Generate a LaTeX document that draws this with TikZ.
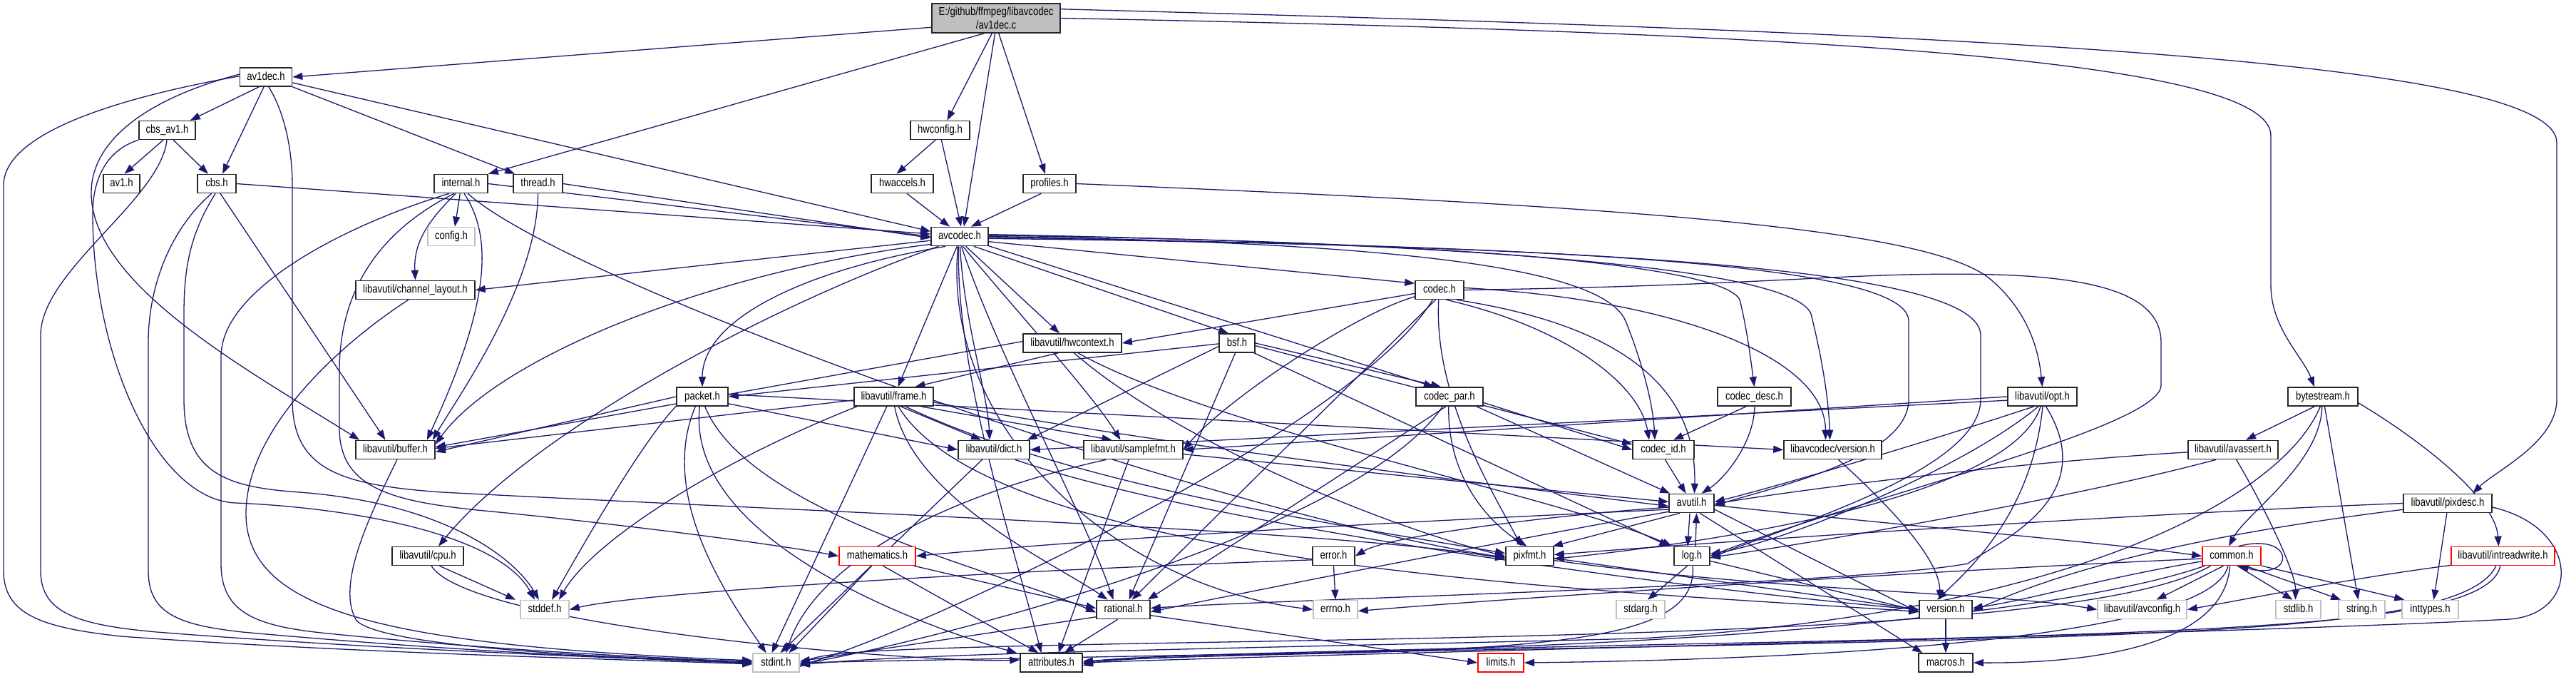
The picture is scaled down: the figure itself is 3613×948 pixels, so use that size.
\documentclass[tikz,border=0pt]{standalone}
\usepackage{fontspec}
\setmainfont[FakeStretch=0.82]{Liberation Sans}
\usetikzlibrary{arrows.meta}
\definecolor{edgec}{HTML}{191970}
\definecolor{grayb}{HTML}{BFBFBF}
\pgfdeclarelayer{bg}
\pgfsetlayers{bg,main}
\begin{document}
\begin{tikzpicture}[x=1pt,y=-1pt,
  nd/.style={font=\fontsize{16}{19}\selectfont, inner sep=0pt, minimum height=26pt, line width=1.6pt, draw=black!85, fill=white, text height=11.5pt, text depth=3.5pt},
  gb/.style={nd, draw=grayb},
  rb/.style={nd, draw=red},
  ed/.style={draw=edgec, line width=1.3pt, -{Triangle[length=14pt,width=10pt]}}]
\useasboundingbox (0,0) rectangle (3613,948);
% nodes
\node[nd, fill=grayb, minimum width=180pt, minimum height=41pt, align=center, text height=, text depth=] (top) at (1397,25.5) {E:/github/ffmpeg/libavcodec\\/av1dec.c};
\node[nd, minimum width=73pt] (av1dec) at (373,108) {av1dec.h};
\node[nd, minimum width=79pt] (cbsav1) at (234.5,182.5) {cbs\_av1.h};
\node[nd, minimum width=51pt] (av1) at (170.5,257.5) {av1.h};
\node[nd, minimum width=54pt] (cbs) at (304,257.5) {cbs.h};
\node[nd, minimum width=75pt] (internal) at (646.5,257.5) {internal.h};
\node[nd, minimum width=69pt] (thread) at (754.5,257.5) {thread.h};
\node[gb, minimum width=66pt] (config) at (633,331.5) {config.h};
\node[nd, minimum width=167pt] (chlayout) at (582.5,406.5) {libavutil/channel\_layout.h};
\node[nd, minimum width=83pt] (hwconfig) at (1318.5,182.5) {hwconfig.h};
\node[nd, minimum width=87pt] (hwaccels) at (1265.5,257.5) {hwaccels.h};
\node[nd, minimum width=74pt] (profiles) at (1472,257.5) {profiles.h};
\node[nd, minimum width=80pt] (avcodec) at (1346,331.5) {avcodec.h};
\node[nd, minimum width=68pt] (codec) at (2019,406.5) {codec.h};
\node[nd, minimum width=138pt] (hwcontext) at (1504,481) {libavutil/hwcontext.h};
\node[nd, minimum width=50pt] (bsf) at (1735,481) {bsf.h};
\node[nd, minimum width=72pt] (packet) at (985,556) {packet.h};
\node[nd, minimum width=111pt] (frame) at (1253.5,556) {libavutil/frame.h};
\node[nd, minimum width=100pt] (dict) at (1394,630.5) {libavutil/dict.h};
\node[nd, minimum width=139pt] (samplefmt) at (1589.5,630.5) {libavutil/samplefmt.h};
\node[rb, minimum width=107pt] (mathematics) at (1230.5,779.5) {mathematics.h};
\node[nd, minimum width=75pt] (rational) at (1575.5,854.5) {rational.h};
\node[gb, minimum width=65pt] (stdint) at (1088.5,929) {stdint.h};
\node[nd, minimum width=87pt] (attributes) at (1474.5,929) {attributes.h};
\node[nd, minimum width=111pt] (buffer) at (554.5,630.5) {libavutil/buffer.h};
\node[nd, minimum width=100pt] (cpu) at (600,779.5) {libavutil/cpu.h};
\node[gb, minimum width=68pt] (stddef) at (764,854.5) {stddef.h};
\node[nd, minimum width=94pt] (codecpar) at (2033,556) {codec\_par.h};
\node[nd, minimum width=103pt] (codecdesc) at (2460.5,556) {codec\_desc.h};
\node[nd, minimum width=86pt] (codecid) at (2333,630.5) {codec\_id.h};
\node[nd, minimum width=137pt] (lavcver) at (2570.5,630.5) {libavcodec/version.h};
\node[nd, minimum width=63pt] (avutil) at (2372.5,705.5) {avutil.h};
\node[nd, minimum width=59pt] (error) at (1870.5,779.5) {error.h};
\node[nd, minimum width=67pt] (pixfmt) at (2145.5,779.5) {pixfmt.h};
\node[nd, minimum width=50pt] (log) at (2373,779.5) {log.h};
\node[gb, minimum width=62pt] (errno) at (1873,854.5) {errno.h};
\node[gb, minimum width=68pt] (stdarg) at (2301,854.5) {stdarg.h};
\node[rb, minimum width=64pt] (limits) at (2105,929) {limits.h};
\node[nd, minimum width=97pt] (opt) at (2864.5,556) {libavutil/opt.h};
\node[nd, minimum width=98pt] (bytestream) at (3258,556) {bytestream.h};
\node[nd, minimum width=126pt] (avassert) at (3132,630.5) {libavutil/avassert.h};
\node[nd, minimum width=124pt] (pixdesc) at (3433,705.5) {libavutil/pixdesc.h};
\node[rb, minimum width=82pt] (common) at (3130,779.5) {common.h};
\node[rb, minimum width=145pt] (intreadwrite) at (3510.5,779.5) {libavutil/intreadwrite.h};
\node[nd, minimum width=74pt] (version) at (2729,854.5) {version.h};
\node[gb, minimum width=125pt] (avconfig) at (3004.5,854.5) {libavutil/avconfig.h};
\node[gb, minimum width=63pt] (stdlib) at (3223.5,854.5) {stdlib.h};
\node[gb, minimum width=65pt] (string) at (3312.5,854.5) {string.h};
\node[gb, minimum width=79pt] (inttypes) at (3408.5,854.5) {inttypes.h};
\node[nd, minimum width=76pt] (macros) at (2729,929) {macros.h};
% edges
\begin{pgfonlayer}{bg}
\fill[white] (0,0) rectangle (3613,948);
% top
\draw[ed] (top.188) -- (av1dec.east);
\draw[ed] (top.232) -- (internal.north east);
\draw[ed] (top.255) -- ([xshift=10pt]hwconfig.north);
\draw[ed] (top.266) -- ([xshift=6pt]avcodec.north);
\draw[ed] (top.280) -- ([xshift=-6pt]profiles.north);
\draw[ed] (top.east) .. controls (2500,45) and (3185,80) .. (3185,190) -- (3185,400) .. controls (3185,460) and (3230,500) .. ([xshift=-12pt]bytestream.north);
\draw[ed] (top.8) .. controls (2700,45) and (3586,80) .. (3586,200) -- (3586,560) .. controls (3586,620) and (3500,660) .. ([xshift=35pt]pixdesc.north);
% av1dec.h
\draw[ed] (av1dec.-125) -- ([xshift=-8pt]cbsav1.north east);
\draw[ed] (av1dec.-102) -- ([xshift=8pt]cbs.north);
\draw[ed] (av1dec.south east) -- ([xshift=3pt]thread.north west);
\draw[ed] (av1dec.-12) -- (avcodec.170);
\draw[ed] (av1dec.178) .. controls (150,140) and (5,190) .. (5,260) -- (5,800) .. controls (5,862) and (60,880) .. (170,892) .. controls (500,916) and (900,925) .. ([yshift=-2pt]stdint.west);
\draw[ed] (av1dec.174) .. controls (200,140) and (128,200) .. (128,270) .. controls (128,400) and (350,520) .. ([xshift=6pt]buffer.north west);
\draw[ed] (av1dec.-75) .. controls (395,150) and (410,200) .. (410,260) -- (410,560) .. controls (410,660) and (480,680) .. (620,690) .. controls (1200,720) and (1900,745) .. ([yshift=-4pt]pixfmt.west);
% cbs_av1.h
\draw[ed] (cbsav1.-112) -- ([xshift=4pt]av1.north);
\draw[ed] (cbsav1.-58) -- ([xshift=-12pt]cbs.north);
\draw[ed] (cbsav1.-92) .. controls (225,280) and (57,380) .. (57,470) -- (57,800) .. controls (57,860) and (110,876) .. (220,886) .. controls (550,912) and (900,923) .. ([yshift=-1pt]stdint.west);
\draw[ed] (cbsav1.south west) .. controls (150,210) and (130,250) .. (130,300) .. controls (130,500) and (220,700) .. (330,705) .. controls (500,712) and (700,750) .. ([xshift=-14pt]stddef.north);
% cbs.h
\draw[ed] (cbs.east) -- (avcodec.175);
\draw[ed] (cbs.-70) -- ([xshift=-14pt]buffer.north);
\draw[ed] (cbs.-118) .. controls (240,320) and (208,400) .. (208,480) -- (208,800) .. controls (208,860) and (250,876) .. (340,886) .. controls (650,914) and (900,924) .. (stdint.west);
\draw[ed] (cbs.-98) .. controls (265,330) and (258,380) .. (258,440) -- (258,560) .. controls (258,665) and (320,683) .. (420,690) .. controls (620,705) and (720,780) .. ([xshift=-8pt]stddef.north);
% internal.h
\draw[ed] (internal.east) -- (avcodec.180);
\draw[ed] (internal.-95) -- ([xshift=5pt]config.north);
\draw[ed] (internal.-118) .. controls (600,310) and (580,340) .. (chlayout.north);
\draw[ed] (internal.-140) .. controls (500,310) and (310,400) .. (310,500) -- (310,790) .. controls (310,860) and (360,878) .. (460,888) .. controls (700,912) and (920,922) .. ([yshift=1pt]stdint.west);
\draw[ed] (internal.-72) .. controls (690,330) and (690,420) .. ([xshift=-12pt]buffer.north east);
\draw[ed] (internal.-125) .. controls (520,330) and (476,420) .. (476,520) -- (476,600) .. controls (476,690) and (560,705) .. (700,718) .. controls (900,738) and (1100,765) .. (mathematics.west);
\draw[ed] (internal.-55) .. controls (800,400) and (1700,720) .. ([yshift=-2pt]pixfmt.west);
% thread.h
\draw[ed] (thread.east) -- (avcodec.183);
\draw[ed] (thread.south) .. controls (754,400) and (640,560) .. ([xshift=-4pt]buffer.north east);
% hwconfig / hwaccels / profiles
\draw[ed] (hwconfig.-115) -- ([xshift=-8pt]hwaccels.north);
\draw[ed] (hwconfig.-82) -- ([xshift=2pt]avcodec.north);
\draw[ed] (hwaccels.-65) -- ([xshift=-14pt]avcodec.north);
\draw[ed] (profiles.-130) -- ([xshift=16pt]avcodec.north);
\draw[ed] (profiles.east) .. controls (2300,290) and (2700,320) .. (2790,390) .. controls (2850,440) and (2860,500) .. (opt.north);
% avcodec.h
\draw[ed] (avcodec.188) -- (chlayout.east);
\draw[ed] (avcodec.195) .. controls (1000,380) and (700,500) .. ([yshift=-6pt]buffer.north east);
\draw[ed] (avcodec.205) .. controls (1100,420) and (750,600) .. ([xshift=15pt]cpu.north);
\draw[ed] (avcodec.215) .. controls (1120,380) and (985,450) .. (packet.north);
\draw[ed] (avcodec.-105) -- ([xshift=6pt]frame.north);
\draw[ed] (avcodec.-88) .. controls (1352,450) and (1385,550) .. ([xshift=-6pt]dict.north);
\draw[ed] (avcodec.-72) .. controls (1420,430) and (1530,550) .. ([xshift=-18pt]samplefmt.north);
\draw[ed] (avcodec.-58) -- ([xshift=-18pt]hwcontext.north);
\draw[ed] (avcodec.-35) -- ([xshift=-12pt]bsf.north);
\draw[ed] (avcodec.-10) -- (codec.165);
\draw[ed] (avcodec.-80) .. controls (1400,500) and (1520,720) .. ([xshift=-14pt]rational.north);
\draw[ed] (avcodec.-96) .. controls (1340,520) and (1420,760) .. ([xshift=-14pt]attributes.north);
\draw[ed] (avcodec.-100) .. controls (1320,600) and (1560,820) .. (errno.west);
\draw[ed] (avcodec.-18) -- ([xshift=-22pt]codecpar.north);
\draw[ed] (avcodec.east) .. controls (2000,340) and (2250,380) .. (2280,450) .. controls (2300,500) and (2318,560) .. ([xshift=-12pt]codecid.north);
\draw[ed] (avcodec.2) .. controls (2150,340) and (2420,380) .. (2440,420) .. controls (2450,460) and (2455,500) .. (codecdesc.north);
\draw[ed] (avcodec.4) .. controls (2250,345) and (2520,390) .. (2540,440) .. controls (2555,500) and (2565,560) .. ([xshift=-4pt]lavcver.north);
\draw[ed] (avcodec.-2) .. controls (2200,345) and (2677,370) .. (2677,450) -- (2677,560) .. controls (2677,640) and (2500,680) .. ([yshift=-3pt]avutil.east);
\draw[ed] (avcodec.-4) .. controls (2300,345) and (2778,380) .. (2778,470) -- (2778,560) .. controls (2778,660) and (2500,740) .. ([yshift=-3pt]log.east);
% codec.h
\draw[ed] (codec.188) -- (hwcontext.east);
\draw[ed] (codec.195) .. controls (1900,440) and (1720,560) .. (samplefmt.east);
\draw[ed] (codec.-125) .. controls (1900,600) and (1300,880) .. ([yshift=-4pt]stdint.east);
\draw[ed] (codec.-112) -- ([xshift=12pt]rational.north);
\draw[ed] (codec.-95) .. controls (2010,560) and (2100,700) .. ([xshift=-12pt]pixfmt.north);
\draw[ed] (codec.-55) .. controls (2200,460) and (2300,540) .. ([xshift=-20pt]codecid.north);
\draw[ed] (codec.5) .. controls (2350,420) and (2560,500) .. ([xshift=-10pt]lavcver.north);
\draw[ed] (codec.-30) .. controls (2300,460) and (2380,560) .. ([xshift=4pt]avutil.north);
\draw[ed] (codec.0) .. controls (2500,400) and (2600,380) .. (2800,385) .. controls (2960,390) and (3031,420) .. (3031,480) -- (3031,540) .. controls (3031,600) and (2600,700) .. ([yshift=0pt]log.east);
% bsf.h
\draw[ed] (bsf.182) -- (packet.east);
\draw[ed] (bsf.190) -- ([xshift=-4pt]dict.north east);
\draw[ed] (bsf.-100) -- ([xshift=8pt]rational.north);
\draw[ed] (bsf.-8) -- (codecid.170);
\draw[ed] (bsf.east) -- ([xshift=-12pt]codecpar.north);
\draw[ed] (bsf.-30) -- ([xshift=-6pt]log.north west);
% hwcontext.h
\draw[ed] (hwcontext.178) -- ([yshift=-10pt]buffer.north east);
\draw[ed] (hwcontext.-145) -- ([xshift=30pt]frame.north);
\draw[ed] (hwcontext.-60) .. controls (1700,600) and (2200,700) .. ([xshift=-2pt]log.north west);
\draw[ed] (hwcontext.-80) .. controls (1650,620) and (1950,740) .. ([yshift=0pt]pixfmt.west);
% packet.h
\draw[ed] (packet.180) -- ([yshift=-3pt]buffer.east);
\draw[ed] (packet.-160) .. controls (900,620) and (820,760) .. ([xshift=10pt]stddef.north);
\draw[ed] (packet.-125) .. controls (920,700) and (1030,850) .. ([xshift=-14pt]stdint.north);
\draw[ed] (packet.-105) .. controls (960,760) and (1300,880) .. ([xshift=-4pt]attributes.north west);
\draw[ed] (packet.-15) -- (dict.west);
\draw[ed] (packet.-75) .. controls (1050,720) and (1400,800) .. ([yshift=-4pt]rational.west);
\draw[ed] (packet.5) -- (lavcver.west);
% frame.h
\draw[ed] (frame.185) -- ([yshift=2pt]buffer.east);
\draw[ed] (frame.-165) .. controls (1000,650) and (830,760) .. ([xshift=20pt]stddef.north);
\draw[ed] (frame.-125) -- ([xshift=-6pt]stdint.north);
\draw[ed] (frame.-8) .. controls (1600,620) and (2100,680) .. ([yshift=-4pt]avutil.west);
\draw[ed] (frame.-55) -- ([xshift=-18pt]dict.north);
\draw[ed] (frame.-85) .. controls (1280,700) and (1480,790) .. ([xshift=-22pt]rational.north);
\draw[ed] (frame.-20) -- ([xshift=-30pt]samplefmt.north);
\draw[ed] (frame.-40) .. controls (1500,680) and (1900,740) .. ([yshift=4pt]pixfmt.west);
\draw[ed] (frame.-65) .. controls (1400,800) and (2300,830) .. ([yshift=-3pt]version.west);
% dict.h / samplefmt.h
\draw[ed] (dict.-140) -- ([xshift=6pt]stdint.north);
\draw[ed] (dict.-25) .. controls (1700,740) and (2400,830) .. (version.west);
\draw[ed] (samplefmt.-160) .. controls (1300,700) and (1140,800) .. ([xshift=14pt]stdint.north);
\draw[ed] (samplefmt.-5) -- ([yshift=2pt]avutil.west);
\draw[ed] (samplefmt.-115) -- ([xshift=10pt]attributes.north);
% buffer, chlayout, cpu
\draw[ed] (buffer.-80) .. controls (520,720) and (470,820) .. (500,870) .. controls (540,910) and (900,924) .. ([yshift=2pt]stdint.west);
\draw[ed] (chlayout.-125) .. controls (480,480) and (345,600) .. (345,720) .. controls (345,860) and (550,905) .. ([yshift=3pt]stdint.west);
\draw[ed] (cpu.-40) -- ([xshift=-6pt]stddef.north west);
\draw[ed] (cpu.-70) .. controls (660,880) and (1300,930) .. ([yshift=4pt]attributes.west);
% mathematics, rational
\draw[ed] (mathematics.-120) -- ([xshift=18pt]stdint.north);
\draw[ed] (mathematics.-15) -- ([yshift=2pt]rational.west);
\draw[ed] (mathematics.-60) -- ([xshift=-18pt]attributes.north);
\draw[ed] (rational.195) -- ([yshift=2pt]stdint.east);
\draw[ed] (rational.-120) -- ([xshift=18pt]attributes.north);
\draw[ed] (rational.-12) -- (limits.west);
% codec_par, codec_desc, codec_id, lavc version
\draw[ed] (codecpar.-125) .. controls (1900,750) and (1300,900) .. ([yshift=-2pt]stdint.east);
\draw[ed] (codecpar.-20) -- ([xshift=2pt]avutil.north west);
\draw[ed] (codecpar.-110) -- ([xshift=-4pt]rational.north east);
\draw[ed] (codecpar.-95) .. controls (2030,680) and (2100,740) .. ([xshift=-4pt]pixfmt.north);
\draw[ed] (codecpar.-10) -- (codecid.180);
\draw[ed] (codecdesc.-130) -- ([xshift=14pt]codecid.north);
\draw[ed] (codecdesc.-88) .. controls (2460,620) and (2420,670) .. ([xshift=14pt]avutil.north);
\draw[ed] (codecid.-80) -- ([xshift=-8pt]avutil.north);
\draw[ed] (lavcver.-60) .. controls (2640,700) and (2720,780) .. ([xshift=-8pt]version.north);
% avutil.h
\draw[ed] (avutil.-5) .. controls (2700,740) and (2950,760) .. (common.west);
\draw[ed] (avutil.190) .. controls (2200,720) and (1950,750) .. (error.east);
\draw[ed] (avutil.200) .. controls (2100,760) and (1750,830) .. ([yshift=-3pt]rational.east);
\draw[ed] (avutil.-15) -- ([yshift=-4pt]version.west);
\draw[ed] (avutil.-50) -- ([xshift=6pt]macros.north west);
\draw[ed] (avutil.195) .. controls (2000,730) and (1600,750) .. (mathematics.east);
\draw[ed] (avutil.-100) -- ([xshift=-6pt]log.north);
\draw[ed] (avutil.-140) -- ([xshift=-2pt]pixfmt.north east);
% log.h
\draw[ed] (log.70) -- ([xshift=7pt]avutil.south);
\draw[ed] (log.-115) -- ([xshift=10pt]stdarg.north);
\draw[ed] (log.-85) .. controls (2380,880) and (2250,905) .. (1900,915) .. controls (1700,920) and (1560,922) .. ([yshift=-4pt]attributes.east);
\draw[ed] (log.-15) -- ([yshift=-2pt]version.west);
% error.h
\draw[ed] (error.south) -- (errno.north);
\draw[ed] (error.190) .. controls (1400,800) and (900,830) .. (stddef.east);
% pixfmt.h
\draw[ed] (pixfmt.-10) .. controls (2500,830) and (2800,830) .. (avconfig.west);
\draw[ed] (pixfmt.-5) -- (version.west);
% version.h
\draw[ed] (version.south) -- (macros.north);
% common.h
\draw[ed] (common.-130) -- ([xshift=20pt]avconfig.north);
\draw[ed] (common.-60) -- ([xshift=-8pt]stdlib.north);
\draw[ed] (common.-35) -- ([xshift=4pt]string.north west);
\draw[ed] (common.-18) -- ([xshift=4pt]inttypes.north west);
\draw[ed] (common.190) .. controls (2950,810) and (2850,840) .. ([yshift=2pt]version.east);
\draw[ed] (common.-100) .. controls (3120,900) and (2950,930) .. (macros.east);
\draw[ed] (common.200) .. controls (2900,860) and (2400,900) .. (2000,910) .. controls (1800,915) and (1560,920) .. ([yshift=-2pt]attributes.east);
\draw[ed] (common.205) .. controls (2950,880) and (2300,890) .. (1600,902) .. controls (1300,908) and (1150,912) .. ([yshift=-6pt]stdint.east);
\draw[ed] (common.185) .. controls (2700,800) and (2100,840) .. ([yshift=-2pt]errno.east);
\draw[ed] (common.-110) .. controls (3100,900) and (2500,925) .. (limits.east);
\draw[ed] (common.55) .. controls (3220,745) and (3220,815) .. (common.-55);
% opt.h
\draw[ed] (opt.180) -- (samplefmt.east);
\draw[ed] (opt.186) -- (dict.east);
\draw[ed] (opt.-130) .. controls (2700,620) and (2500,680) .. ([yshift=2pt]avutil.east);
\draw[ed] (opt.-112) .. controls (2750,660) and (2500,760) .. ([yshift=3pt]log.east);
\draw[ed] (opt.-100) .. controls (2820,700) and (2400,760) .. ([yshift=-4pt]pixfmt.east);
\draw[ed] (opt.-88) .. controls (2850,720) and (2760,800) .. ([xshift=-12pt]version.north);
\draw[ed] (opt.-70) .. controls (2950,700) and (2800,760) .. (2760,790) .. controls (2600,820) and (1800,840) .. ([yshift=2pt]rational.east);
% bytestream.h
\draw[ed] (bytestream.-130) -- ([xshift=18pt]avassert.north);
\draw[ed] (bytestream.-95) .. controls (3255,650) and (3150,720) .. ([xshift=-4pt]common.north);
\draw[ed] (bytestream.-80) -- ([xshift=-5pt]string.north);
\draw[ed] (bytestream.-10) .. controls (3400,620) and (3500,700) .. ([xshift=-6pt]intreadwrite.north);
\draw[ed] (bytestream.-105) .. controls (3200,700) and (2900,860) .. (2300,895) .. controls (1700,910) and (1300,915) .. ([yshift=-3pt]stdint.east);
% avassert.h
\draw[ed] (avassert.-72) .. controls (3170,700) and (3220,800) .. ([xshift=-4pt]stdlib.north);
\draw[ed] (avassert.183) .. controls (2800,650) and (2500,690) .. ([yshift=-1pt]avutil.east);
\draw[ed] (avassert.-150) .. controls (2900,700) and (2550,760) .. ([yshift=-2pt]log.east);
% pixdesc.h
\draw[ed] (pixdesc.-95) -- ([xshift=5pt]inttypes.north);
\draw[ed] (pixdesc.180) .. controls (3000,720) and (2400,760) .. ([yshift=2pt]pixfmt.east);
\draw[ed] (pixdesc.188) .. controls (3000,760) and (2850,820) .. ([yshift=-2pt]version.east);
\draw[ed] (pixdesc.-5) .. controls (3620,740) and (3620,860) .. (3520,868) .. controls (3100,890) and (1900,915) .. ([yshift=0pt]attributes.east);
% intreadwrite.h
\draw[ed] (intreadwrite.190) .. controls (3300,810) and (3150,840) .. (avconfig.east);
\draw[ed] (intreadwrite.-125) .. controls (3460,880) and (3100,890) .. (2400,905) .. controls (1700,918) and (1300,925) .. ([yshift=0pt]stdint.east);
\draw[ed] (intreadwrite.-105) .. controls (3490,870) and (3200,885) .. (2500,900) .. controls (1900,912) and (1600,922) .. ([yshift=2pt]attributes.east);
\end{pgfonlayer}
\end{tikzpicture}
\end{document}
